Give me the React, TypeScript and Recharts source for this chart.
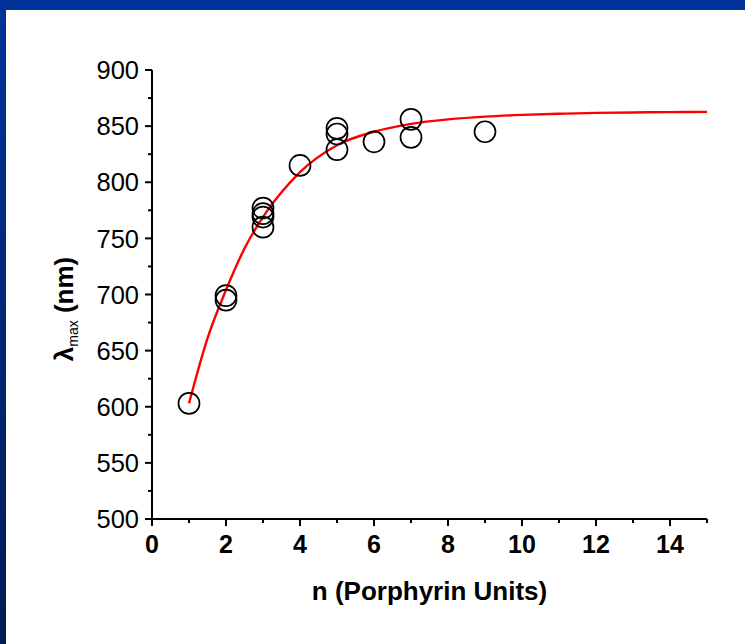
import { ComposedChart, Line, Scatter, XAxis, YAxis } from "recharts";

// measured points (open circles)
const nUnits = [1, 2, 2, 3, 3, 3, 3, 4, 5, 5, 5, 6, 7, 7, 9];
const lambdaMax = [603, 699, 695, 777, 772, 769, 760, 815, 848, 843, 829, 836, 856, 840, 845];

// fitted curve
const fitN = [1, 1.5, 2, 2.5, 3, 3.5, 4, 5, 6, 7, 8, 9, 10, 11, 12, 13, 14, 15];
const fitLambda = [603, 661, 704, 741, 769, 791, 809, 833, 845, 852, 856, 858.5, 860, 861, 861.8, 862.2, 862.5, 862.7];

const xTicks = [0, 1, 2, 3, 4, 5, 6, 7, 8, 9, 10, 11, 12, 13, 14, 15];
const yTicks = [500, 525, 550, 575, 600, 625, 650, 675, 700, 725, 750, 775, 800, 825, 850, 875, 900];

const points = nUnits.map((n, i) => ({ x: n, y: lambdaMax[i] }));
const fit = fitN.map((n, i) => ({ x: n, y: fitLambda[i] }));

const FONT = '"Liberation Sans", Arial, sans-serif';

function XTick({ x, y, payload }: any) {
  const major = payload.value % 2 === 0;
  return (
    <g>
      <line x1={x} x2={x} y1={y} y2={y + (major ? 7 : 4)} stroke="#000" strokeWidth={2} />
      {major && (
        <text x={x} y={y + 34} textAnchor="middle" fontFamily={FONT} fontSize={25} fontWeight="bold" fill="#000">
          {payload.value}
        </text>
      )}
    </g>
  );
}

function YTick({ x, y, payload }: any) {
  const major = payload.value % 50 === 0;
  return (
    <g>
      <line x1={x} x2={x - (major ? 7 : 4)} y1={y} y2={y} stroke="#000" strokeWidth={2} />
      {major && (
        <text x={x - 13} y={y} dy="0.36em" textAnchor="end" fontFamily={FONT} fontSize={25.5} fill="#000">
          {payload.value}
        </text>
      )}
    </g>
  );
}

function XTitle({ viewBox }: any) {
  const cx = viewBox.x + viewBox.width / 2;
  return (
    <text x={cx} y={viewBox.y + 81} textAnchor="middle" fontFamily={FONT} fontSize={26} fontWeight="bold" fill="#000">
      n (Porphyrin Units)
    </text>
  );
}

function YTitle() {
  const cx = 73;
  const cy = 309;
  return (
    <text
      x={cx}
      y={cy}
      textAnchor="middle"
      transform={`rotate(-90, ${cx}, ${cy})`}
      fontFamily={FONT}
      fontSize={26}
      fontWeight="bold"
      fill="#000"
    >
      λ
      <tspan fontSize={14} fontWeight="normal" dy={5}>max</tspan>
      <tspan dy={-5}> (nm)</tspan>
    </text>
  );
}

function Ring({ cx, cy }: any) {
  return <circle cx={cx} cy={cy} r={10.5} fill="none" stroke="#000" strokeWidth={1.7} />;
}

export default function App() {
  return (
    <div
      style={{
        position: "absolute",
        left: 0,
        top: 0,
        width: 745,
        height: 644,
        background: "linear-gradient(180deg, #003399 0%, #001c54 100%)",
      }}
    >
      <div style={{ position: "absolute", left: 0, top: 0, width: 745, height: 10, background: "#003399" }} />
      <div style={{ position: "absolute", left: 6, top: 10, width: 739, height: 634, background: "#fff" }} />
      <div style={{ position: "absolute", left: 0, top: 0 }}>
        <ComposedChart width={745} height={644} margin={{ top: 70, right: 38, bottom: 85, left: 92 }}>
          <XAxis
            type="number"
            dataKey="x"
            domain={[0, 15]}
            ticks={xTicks}
            interval={0}
            tick={<XTick />}
            tickLine={false}
            tickSize={0}
            tickMargin={0}
            height={40}
            axisLine={{ stroke: "#000", strokeWidth: 2 }}
            label={<XTitle />}
            allowDataOverflow
          />
          <YAxis
            type="number"
            dataKey="y"
            domain={[500, 900]}
            ticks={yTicks}
            interval={0}
            tick={<YTick />}
            tickLine={false}
            tickSize={0}
            tickMargin={0}
            width={60}
            axisLine={{ stroke: "#000", strokeWidth: 2 }}
            label={<YTitle />}
            allowDataOverflow
          />
          <Scatter data={points} dataKey="y" shape={<Ring />} isAnimationActive={false} />
          <Line
            data={fit}
            dataKey="y"
            type="monotone"
            stroke="#ff0000"
            strokeWidth={2.4}
            dot={false}
            activeDot={false}
            isAnimationActive={false}
          />
        </ComposedChart>
      </div>
    </div>
  );
}
